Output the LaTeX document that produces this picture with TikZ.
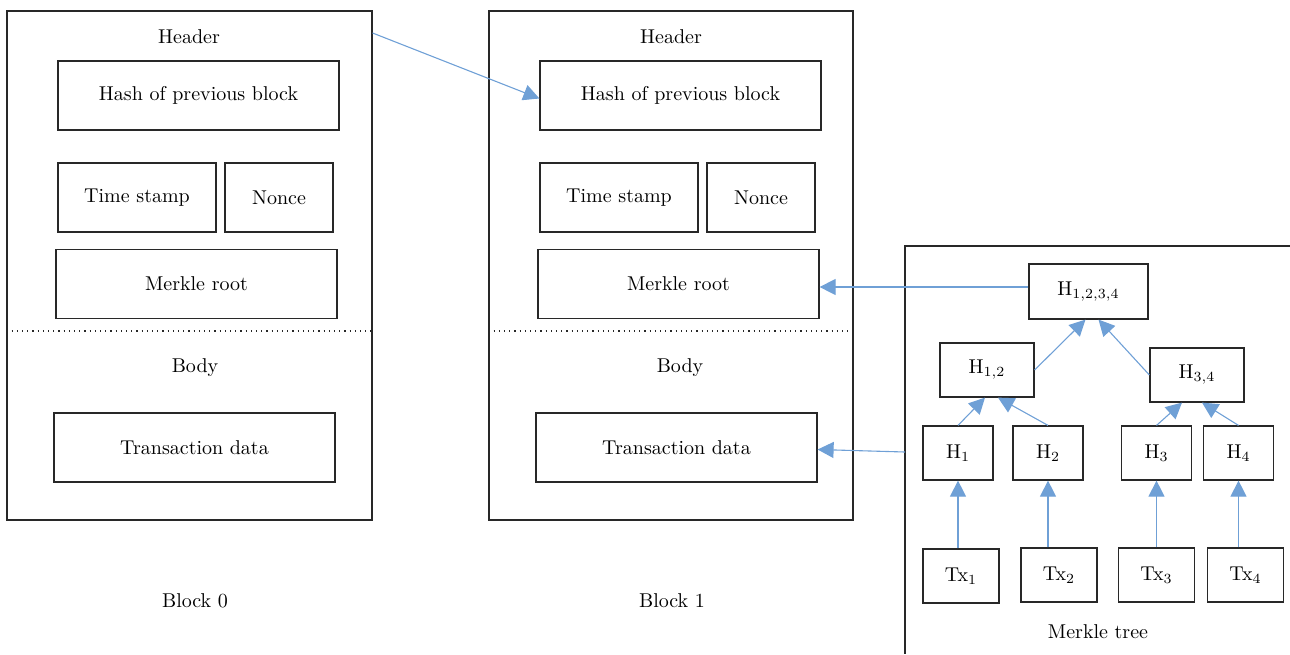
\documentclass[tikz,border=0pt]{standalone}
\usepackage{amsmath}
\usetikzlibrary{arrows.meta}
\definecolor{linkblue}{RGB}{111,160,214}
\definecolor{boxgray}{RGB}{40,40,40}
\tikzset{
  box/.style={draw=boxgray, line width=0.6pt, inner sep=0pt, font=\fontsize{10}{12}\selectfont},
  wide/.style={box, minimum width=140.5pt, minimum height=34.5pt},
  stampbox/.style={box, minimum width=79pt, minimum height=34.5pt},
  noncebox/.style={box, minimum width=54pt, minimum height=34.5pt},
  leaf/.style={box, minimum width=35pt, minimum height=27pt},
  txbox/.style={box, minimum width=38pt, minimum height=27pt},
  mid/.style={box, minimum width=47pt, minimum height=27pt},
  root/.style={box, minimum width=59.5pt, minimum height=27.5pt},
  lbl/.style={font=\fontsize{10}{12}\selectfont},
  link/.style={draw=linkblue, line width=0.55pt, -{Triangle[length=8pt, width=8pt]}}
}

\begin{document}
\begin{tikzpicture}[x=0.5pt, y=-0.5pt]
  \useasboundingbox (0,0) rectangle (1290,654);

  % block 0
  \node[box, minimum width=182.5pt, minimum height=254.5pt] (blk0) at (189.5,265.5) {};
  \node[lbl] (head0) at (189,37) {Header};
  \node[wide] (hash0) at (198.5,95.5) {Hash of previous block};
  \node[stampbox] (ts0) at (137,197.5) {Time stamp};
  \node[noncebox] (nonce0) at (279,197.5) {Nonce};
  \node[wide] (mr0) at (196.5,284) {Merkle root};
  \draw[boxgray, dotted, line width=0.6pt] (blk0.west |- 0,331) -- (blk0.east |- 0,331);
  \node[lbl] (body0) at (195,368) {Body};
  \node[wide] (tx0) at (194.5,447.5) {Transaction data};
  \node[lbl] (name0) at (195,601) {Block 0};

  % block 1
  \node[box, minimum width=182pt, minimum height=254.5pt] (blk1) at (671,265.5) {};
  \node[lbl] (head1) at (671,37) {Header};
  \node[wide] (hash1) at (680.5,95.5) {Hash of previous block};
  \node[stampbox] (ts1) at (619,197.5) {Time stamp};
  \node[noncebox] (nonce1) at (761,197.5) {Nonce};
  \node[wide] (mr1) at (678.5,284) {Merkle root};
  \draw[boxgray, dotted, line width=0.6pt] (blk1.west |- 0,331) -- (blk1.east |- 0,331);
  \node[lbl] (body1) at (680,368) {Body};
  \node[wide] (tx1) at (676.5,447.5) {Transaction data};
  \node[lbl] (name1) at (672,601) {Block 1};

  % merkle tree frame
  \draw[boxgray, line width=0.6pt] (1290,246) -- (905,246) -- (905,654);
  \coordinate (mtin) at (905,452);
  \node[lbl] (mtname) at (1098,632) {Merkle tree};

  \node[root] (h1234) at (1088.5,291.5) {H$_{1,2,3,4}$};
  \node[mid] (h12) at (987,370) {H$_{1,2}$};
  \node[mid] (h34) at (1197,375) {H$_{3,4}$};
  \node[leaf] (h1) at (958,453) {H$_1$};
  \node[leaf] (h2) at (1048,453) {H$_2$};
  \node[leaf] (h3) at (1156.5,453) {H$_3$};
  \node[leaf] (h4) at (1238.5,453) {H$_4$};
  \node[txbox] (t1) at (961,576) {Tx$_1$};
  \node[txbox] (t2) at (1059,575) {Tx$_2$};
  \node[txbox] (t3) at (1156.5,575) {Tx$_3$};
  \node[txbox] (t4) at (1245.5,575) {Tx$_4$};

  % links
  \draw[link] (blk0.east |- 0,33) -- ([yshift=-1.5pt]hash1.west);
  \draw[link] ([yshift=2.25pt]h1234.west) -- ([yshift=-1.5pt]mr1.east);
  \draw[link] (mtin) -- ([yshift=-1pt]tx1.east);

  \draw[link] (h1.north) -- ([xshift=-1pt]h12.south);
  \draw[link] (h2.north) -- ([xshift=5.5pt]h12.south);
  \draw[link] (h3.north) -- ([xshift=-7.5pt]h34.south);
  \draw[link] (h4.north) -- ([xshift=2.5pt]h34.south);
  \draw[link] (h12.east) -- ([xshift=-1.5pt]h1234.south);
  \draw[link] (h34.west) -- ([xshift=5pt]h1234.south);

  \draw[link] (t1.north -| h1.south) -- (h1.south);
  \draw[link] (t2.north -| h2.south) -- (h2.south);
  \draw[link] (t3.north -| h3.south) -- (h3.south);
  \draw[link] (t4.north -| h4.south) -- (h4.south);
\end{tikzpicture}
\end{document}
